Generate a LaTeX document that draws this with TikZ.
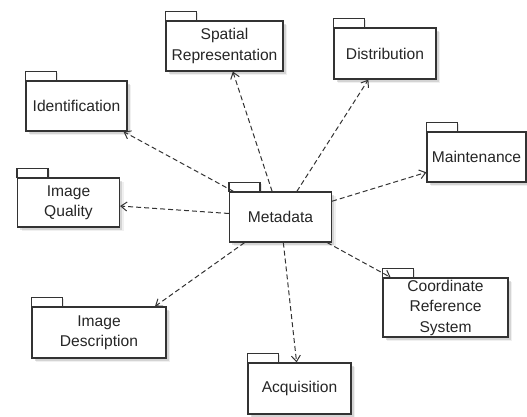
\documentclass[tikz,border=0pt]{standalone}
\usepackage{fontspec}
\setmainfont{Liberation Sans}
\usetikzlibrary{arrows.meta, shadows, backgrounds}

\begin{document}
\begin{tikzpicture}[x=1pt, y=-1pt, ->, >={Straight Barb[length=6pt, width=9pt]}, semithick,
    pkg/.style={draw=black!80, fill=white, text=black!85, line width=1.2pt, align=center, inner sep=0pt,
      minimum width=102pt, minimum height=50pt, font=\fontsize{15.6}{20.5}\selectfont,
      drop shadow={shadow xshift=4pt, shadow yshift=-4pt, opacity=0.12},
      drop shadow={shadow xshift=2.5pt, shadow yshift=-2.5pt, opacity=0.25}},
    tab/.style={-, draw=black!80, fill=white, line width=1.2pt,
      drop shadow={shadow xshift=2pt, shadow yshift=-2pt, opacity=0.2}},
    dep/.style={black!80, line width=1pt, dash pattern=on 5pt off 3pt}]
        \useasboundingbox (0,0) rectangle (527,416);

        \node[pkg] (meta)    at (280.5,217)               {Metadata};
        \node[pkg, minimum width=117pt] (spatial) at (224.5,46) {Spatial\\Representation};
        \node[pkg, minimum height=51pt] (distr)   at (385,53.5)  {Distribution};
        \node[pkg, minimum width=101pt] (ident)   at (76.5,106)  {Identification};
        \node[pkg, minimum width=99pt]  (maint)   at (476.5,157) {Maintenance};
        \node[pkg, minimum height=49pt] (quality) at (68.5,202.5) {Image\\Quality};
        \node[pkg, minimum width=134pt, minimum height=51pt] (desc) at (99,332.5) {Image\\Description};
        \node[pkg, minimum width=103pt, minimum height=51pt] (acq) at (299.5,388.5) {Acquisition};
        \node[pkg, minimum width=125pt, minimum height=59pt] (crs) at (445.5,307.5) {Coordinate\\Reference\\System};

        \begin{scope}[on background layer]
          \foreach \n in {meta, spatial, distr, ident, maint, quality, desc, acq, crs}
            \draw[tab] (\n.north west) rectangle ++(31,-9);
        \end{scope}

        \path (meta) edge [dep] (spatial)
                     edge [dep] (distr)
                     edge [dep] (ident)
                     edge [dep] (quality)
                     edge [dep] (maint)
                     edge [dep] (desc.25)
                     edge [dep] (acq)
                     edge [dep] (crs);
\end{tikzpicture}
\end{document}
